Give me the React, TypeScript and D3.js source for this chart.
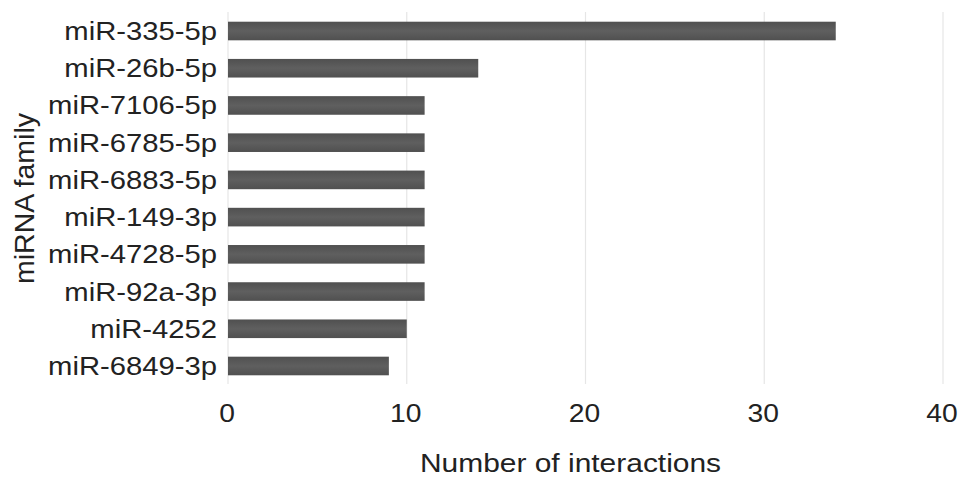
import React from "react";
import * as d3 from "d3";

const categories = [
  "miR-335-5p",
  "miR-26b-5p",
  "miR-7106-5p",
  "miR-6785-5p",
  "miR-6883-5p",
  "miR-149-3p",
  "miR-4728-5p",
  "miR-92a-3p",
  "miR-4252",
  "miR-6849-3p",
];
const values = [34, 14, 11, 11, 11, 11, 11, 11, 10, 9];
const xTicks = [0, 10, 20, 30, 40];
const xTitle = "Number of interactions";
const yTitle = "miRNA family";

const W = 969;
const H = 486;
const SX = 1.13;
const SXL = 1.17;
const FONT = "'Liberation Sans', Arial, Helvetica, sans-serif";
const TXT = "#222";

export default function App() {
  const x = d3.scaleLinear().domain([0, 40]).range([228, 943]);
  const y = d3
    .scaleBand<string>()
    .domain(categories)
    .range([12.4, 384.6])
    .paddingInner(0.5)
    .paddingOuter(0.25);
  const bw = y.bandwidth();

  return (
    <svg
      width={W}
      height={H}
      style={{ position: "absolute", left: 0, top: 0, background: "#fff" }}
      fontFamily={FONT}
    >
      <defs>
        <linearGradient id="barGrad" x1="0" y1="0" x2="0" y2="1">
          <stop offset="0" stopColor="#505050" />
          <stop offset="0.5" stopColor="#5f5f5f" />
          <stop offset="1" stopColor="#505050" />
        </linearGradient>
      </defs>
      <rect width={W} height={H} fill="#fff" />
      {xTicks.map((t) => (
        <line
          key={"g" + t}
          x1={x(t)}
          x2={x(t)}
          y1={12}
          y2={384}
          stroke="#e6e6e6"
          strokeWidth={1.2}
        />
      ))}
      {categories.map((c, i) => (
        <rect
          key={c}
          x={x(0)}
          y={y(c)}
          width={x(values[i]) - x(0)}
          height={bw}
          fill="url(#barGrad)"
        />
      ))}
      {categories.map((c) => (
        <g
          key={"l" + c}
          transform={`translate(217,${(y(c) as number) + bw / 2 + 9}) scale(${SXL},1)`}
        >
          <text textAnchor="end" fontSize={25} fill={TXT}>
            {c}
          </text>
        </g>
      ))}
      {xTicks.map((t) => (
        <g key={"t" + t} transform={`translate(${x(t) - 1},421.5) scale(${SX},1)`}>
          <text textAnchor="middle" fontSize={25} fill={TXT}>
            {t}
          </text>
        </g>
      ))}
      <g transform={`translate(${(420 + 721) / 2},472) scale(${SX},1)`}>
        <text textAnchor="middle" fontSize={26.5} fill={TXT}>
          {xTitle}
        </text>
      </g>
      <g transform={`translate(34,198.5) rotate(-90)`}>
        <text textAnchor="middle" fontSize={28.5} fill={TXT}>
          {yTitle}
        </text>
      </g>
    </svg>
  );
}
